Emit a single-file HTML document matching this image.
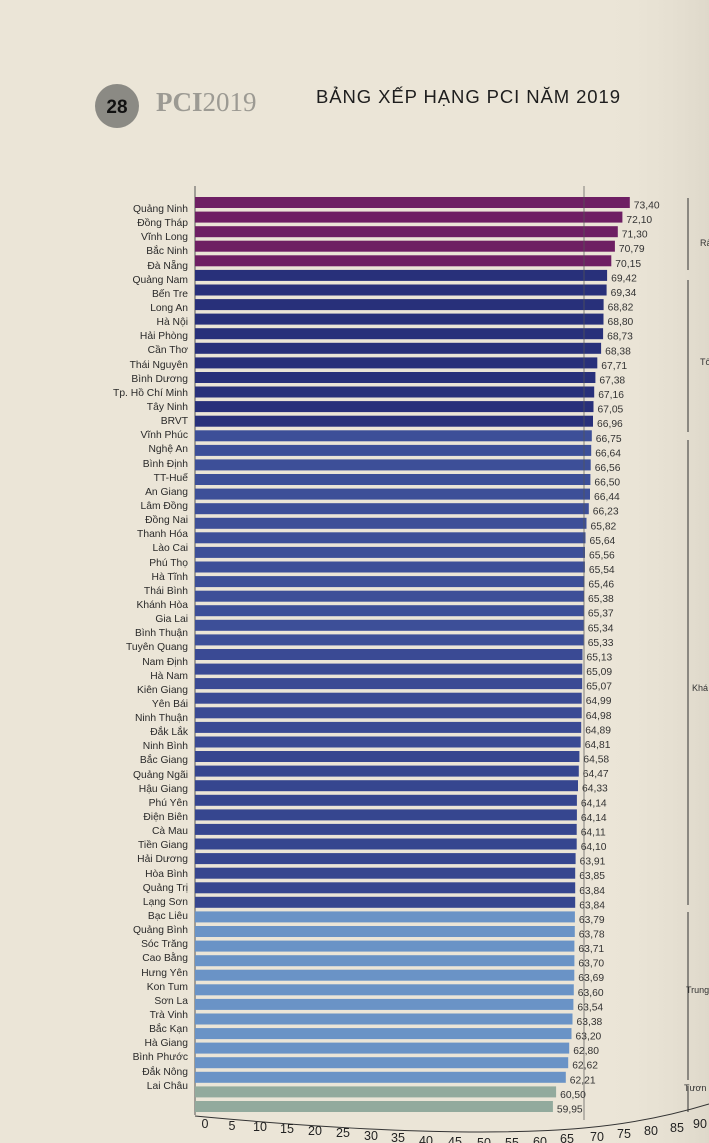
<!DOCTYPE html>
<html><head><meta charset="utf-8"><style>
html,body{margin:0;padding:0}
body{width:709px;height:1143px;overflow:hidden;background:#ebe5d7;font-family:"Liberation Sans",sans-serif;position:relative}
.names{position:absolute;left:0;width:188px;top:203px;text-align:right;font-size:10.3px;line-height:14.145px;color:#2a2a2a}
.names div{height:14.145px;white-space:nowrap}
svg{position:absolute;left:0;top:0}
</style></head><body>
<svg width="709" height="1143" viewBox="0 0 709 1143">
<defs><linearGradient id="sh" x1="0" x2="1"><stop offset="0" stop-color="#ebe5d7" stop-opacity="0"/><stop offset="1" stop-color="#d6d0c2"/></linearGradient></defs>
<rect x="600" y="0" width="109" height="1143" fill="url(#sh)" opacity="0.6"/>
<circle cx="117" cy="106" r="22" fill="#8b8a84"/>
<text x="117" y="113" font-family="Liberation Sans" font-weight="bold" font-size="19" text-anchor="middle" fill="#111">28</text>
<text x="156" y="111" font-family="Liberation Serif" font-weight="bold" font-size="27" fill="#9c9a93">PCI<tspan font-weight="normal">2019</tspan></text>
<text x="316" y="103" font-family="Liberation Sans" font-size="18.5" fill="#1e1e1e" textLength="304">BẢNG XẾP HẠNG PCI NĂM 2019</text>
<line x1="195" y1="186" x2="195" y2="1115" stroke="#555" stroke-width="1"/>
<g font-size="10.3" fill="#333">
<rect x="195" y="197" width="434.8" height="11" fill="#6e1f63"/><text x="633.8" y="208.5">73,40</text>
<rect x="195" y="211.6" width="427.4" height="11" fill="#6e1f63"/><text x="626.4" y="223.1">72,10</text>
<rect x="195" y="226.2" width="422.8" height="11" fill="#6e1f63"/><text x="621.8" y="237.7">71,30</text>
<rect x="195" y="240.7" width="419.9" height="11" fill="#6e1f63"/><text x="618.9" y="252.2">70,79</text>
<rect x="195" y="255.3" width="416.3" height="11" fill="#6e1f63"/><text x="615.3" y="266.8">70,15</text>
<rect x="195" y="269.9" width="412.1" height="11" fill="#28307a"/><text x="611.1" y="281.4">69,42</text>
<rect x="195" y="284.5" width="411.6" height="11" fill="#28307a"/><text x="610.6" y="296">69,34</text>
<rect x="195" y="299.1" width="408.6" height="11" fill="#28307a"/><text x="607.6" y="310.6">68,82</text>
<rect x="195" y="313.6" width="408.5" height="11" fill="#28307a"/><text x="607.5" y="325.1">68,80</text>
<rect x="195" y="328.2" width="408.1" height="11" fill="#28307a"/><text x="607.1" y="339.7">68,73</text>
<rect x="195" y="342.8" width="406.1" height="11" fill="#28307a"/><text x="605.1" y="354.3">68,38</text>
<rect x="195" y="357.4" width="402.3" height="11" fill="#28307a"/><text x="601.3" y="368.9">67,71</text>
<rect x="195" y="372" width="400.4" height="11" fill="#28307a"/><text x="599.4" y="383.5">67,38</text>
<rect x="195" y="386.5" width="399.2" height="11" fill="#28307a"/><text x="598.2" y="398">67,16</text>
<rect x="195" y="401.1" width="398.5" height="11" fill="#28307a"/><text x="597.5" y="412.6">67,05</text>
<rect x="195" y="415.7" width="398.0" height="11" fill="#28307a"/><text x="597" y="427.2">66,96</text>
<rect x="195" y="430.3" width="396.8" height="11" fill="#3d4f98"/><text x="595.8" y="441.8">66,75</text>
<rect x="195" y="444.9" width="396.2" height="11" fill="#3d4f98"/><text x="595.2" y="456.4">66,64</text>
<rect x="195" y="459.4" width="395.7" height="11" fill="#3d4f98"/><text x="594.7" y="470.9">66,56</text>
<rect x="195" y="474" width="395.4" height="11" fill="#3d4f98"/><text x="594.4" y="485.5">66,50</text>
<rect x="195" y="488.6" width="395.0" height="11" fill="#3d4f98"/><text x="594" y="500.1">66,44</text>
<rect x="195" y="503.2" width="393.8" height="11" fill="#3d4f98"/><text x="592.8" y="514.7">66,23</text>
<rect x="195" y="517.8" width="391.5" height="11" fill="#3d4f98"/><text x="590.5" y="529.3">65,82</text>
<rect x="195" y="532.3" width="390.5" height="11" fill="#3d4f98"/><text x="589.5" y="543.8">65,64</text>
<rect x="195" y="546.9" width="390.0" height="11" fill="#3d4f98"/><text x="589" y="558.4">65,56</text>
<rect x="195" y="561.5" width="389.9" height="11" fill="#3d4f98"/><text x="588.9" y="573">65,54</text>
<rect x="195" y="576.1" width="389.4" height="11" fill="#3d4f98"/><text x="588.4" y="587.6">65,46</text>
<rect x="195" y="590.7" width="389.0" height="11" fill="#3d4f98"/><text x="588" y="602.2">65,38</text>
<rect x="195" y="605.2" width="388.9" height="11" fill="#3d4f98"/><text x="587.9" y="616.7">65,37</text>
<rect x="195" y="619.8" width="388.7" height="11" fill="#3d4f98"/><text x="587.7" y="631.3">65,34</text>
<rect x="195" y="634.4" width="388.7" height="11" fill="#3d4f98"/><text x="587.7" y="645.9">65,33</text>
<rect x="195" y="649" width="387.5" height="11" fill="#3a4a94"/><text x="586.5" y="660.5">65,13</text>
<rect x="195" y="663.6" width="387.3" height="11" fill="#3a4a94"/><text x="586.3" y="675.1">65,09</text>
<rect x="195" y="678.1" width="387.2" height="11" fill="#3a4a94"/><text x="586.2" y="689.6">65,07</text>
<rect x="195" y="692.7" width="386.7" height="11" fill="#3a4a94"/><text x="585.7" y="704.2">64,99</text>
<rect x="195" y="707.3" width="386.7" height="11" fill="#3a4a94"/><text x="585.7" y="718.8">64,98</text>
<rect x="195" y="721.9" width="386.2" height="11" fill="#3a4a94"/><text x="585.2" y="733.4">64,89</text>
<rect x="195" y="736.5" width="385.7" height="11" fill="#3a4a94"/><text x="584.7" y="748">64,81</text>
<rect x="195" y="751" width="384.4" height="11" fill="#36468f"/><text x="583.4" y="762.5">64,58</text>
<rect x="195" y="765.6" width="383.8" height="11" fill="#36468f"/><text x="582.8" y="777.1">64,47</text>
<rect x="195" y="780.2" width="383.0" height="11" fill="#36468f"/><text x="582" y="791.7">64,33</text>
<rect x="195" y="794.8" width="381.9" height="11" fill="#36468f"/><text x="580.9" y="806.3">64,14</text>
<rect x="195" y="809.4" width="381.9" height="11" fill="#36468f"/><text x="580.9" y="820.9">64,14</text>
<rect x="195" y="823.9" width="381.7" height="11" fill="#36468f"/><text x="580.7" y="835.4">64,11</text>
<rect x="195" y="838.5" width="381.7" height="11" fill="#36468f"/><text x="580.7" y="850">64,10</text>
<rect x="195" y="853.1" width="380.6" height="11" fill="#36468f"/><text x="579.6" y="864.6">63,91</text>
<rect x="195" y="867.7" width="380.2" height="11" fill="#36468f"/><text x="579.2" y="879.2">63,85</text>
<rect x="195" y="882.3" width="380.2" height="11" fill="#36468f"/><text x="579.2" y="893.8">63,84</text>
<rect x="195" y="896.8" width="380.2" height="11" fill="#36468f"/><text x="579.2" y="908.3">63,84</text>
<rect x="195" y="911.4" width="379.9" height="11" fill="#6a93c6"/><text x="578.9" y="922.9">63,79</text>
<rect x="195" y="926" width="379.8" height="11" fill="#6a93c6"/><text x="578.8" y="937.5">63,78</text>
<rect x="195" y="940.6" width="379.4" height="11" fill="#6a93c6"/><text x="578.4" y="952.1">63,71</text>
<rect x="195" y="955.2" width="379.4" height="11" fill="#6a93c6"/><text x="578.4" y="966.7">63,70</text>
<rect x="195" y="969.7" width="379.3" height="11" fill="#6a93c6"/><text x="578.3" y="981.2">63,69</text>
<rect x="195" y="984.3" width="378.8" height="11" fill="#6a93c6"/><text x="577.8" y="995.8">63,60</text>
<rect x="195" y="998.9" width="378.4" height="11" fill="#6a93c6"/><text x="577.4" y="1010.4">63,54</text>
<rect x="195" y="1013.5" width="377.5" height="11" fill="#6a93c6"/><text x="576.5" y="1025">63,38</text>
<rect x="195" y="1028.1" width="376.5" height="11" fill="#6a93c6"/><text x="575.5" y="1039.6">63,20</text>
<rect x="195" y="1042.6" width="374.2" height="11" fill="#6a93c6"/><text x="573.2" y="1054.1">62,80</text>
<rect x="195" y="1057.2" width="373.2" height="11" fill="#6a93c6"/><text x="572.2" y="1068.7">62,62</text>
<rect x="195" y="1071.8" width="370.8" height="11" fill="#6a93c6"/><text x="569.8" y="1083.3">62,21</text>
<rect x="195" y="1086.4" width="361.1" height="11" fill="#92aa9d"/><text x="560.1" y="1097.9">60,50</text>
<rect x="195" y="1101" width="357.9" height="11" fill="#92aa9d"/><text x="556.9" y="1112.5">59,95</text>
</g>
<line x1="584" y1="186" x2="584" y2="1120" stroke="#555" stroke-width="1" opacity="0.7"/>
<g stroke="#333" stroke-width="1" fill="none">
<line x1="688" y1="198" x2="688" y2="270"/>
<line x1="688" y1="280" x2="688" y2="432"/>
<line x1="688" y1="440" x2="688" y2="905"/>
<line x1="688" y1="912" x2="688" y2="1080"/>
<line x1="688" y1="1086" x2="688" y2="1112"/>
<path d="M195 1116 Q450 1140 584 1128 Q650 1122 709 1104"/>
</g>
<g font-size="9" fill="#333">
<text x="700" y="246">Rấ</text><text x="700" y="365">Tố</text><text x="692" y="691">Khá</text><text x="686" y="993">Trung</text><text x="684" y="1091">Tươn</text>
</g>
<g font-size="12.5" fill="#222" text-anchor="middle">
<text x="205" y="1128">0</text><text x="232" y="1130">5</text><text x="260" y="1131">10</text><text x="287" y="1133">15</text><text x="315" y="1135">20</text><text x="343" y="1137">25</text><text x="371" y="1140">30</text><text x="398" y="1142">35</text><text x="426" y="1145">40</text><text x="455" y="1146">45</text><text x="484" y="1147">50</text><text x="512" y="1147">55</text><text x="540" y="1146">60</text><text x="567" y="1143">65</text><text x="597" y="1141">70</text><text x="624" y="1138">75</text><text x="651" y="1135">80</text><text x="677" y="1132">85</text><text x="700" y="1128">90</text>
</g>
</svg>
<div class="names">
<div>Quảng Ninh</div><div>Đồng Tháp</div><div>Vĩnh Long</div><div>Bắc Ninh</div><div>Đà Nẵng</div><div>Quảng Nam</div><div>Bến Tre</div><div>Long An</div><div>Hà Nội</div><div>Hải Phòng</div><div>Cần Thơ</div><div>Thái Nguyên</div><div>Bình Dương</div><div>Tp. Hồ Chí Minh</div><div>Tây Ninh</div><div>BRVT</div><div>Vĩnh Phúc</div><div>Nghệ An</div><div>Bình Định</div><div>TT-Huế</div><div>An Giang</div><div>Lâm Đồng</div><div>Đồng Nai</div><div>Thanh Hóa</div><div>Lào Cai</div><div>Phú Thọ</div><div>Hà Tĩnh</div><div>Thái Bình</div><div>Khánh Hòa</div><div>Gia Lai</div><div>Bình Thuận</div><div>Tuyên Quang</div><div>Nam Định</div><div>Hà Nam</div><div>Kiên Giang</div><div>Yên Bái</div><div>Ninh Thuận</div><div>Đắk Lắk</div><div>Ninh Bình</div><div>Bắc Giang</div><div>Quảng Ngãi</div><div>Hậu Giang</div><div>Phú Yên</div><div>Điện Biên</div><div>Cà Mau</div><div>Tiền Giang</div><div>Hải Dương</div><div>Hòa Bình</div><div>Quảng Trị</div><div>Lạng Sơn</div><div>Bạc Liêu</div><div>Quảng Bình</div><div>Sóc Trăng</div><div>Cao Bằng</div><div>Hưng Yên</div><div>Kon Tum</div><div>Sơn La</div><div>Trà Vinh</div><div>Bắc Kạn</div><div>Hà Giang</div><div>Bình Phước</div><div>Đắk Nông</div><div>Lai Châu</div>
</div>
</body></html>
